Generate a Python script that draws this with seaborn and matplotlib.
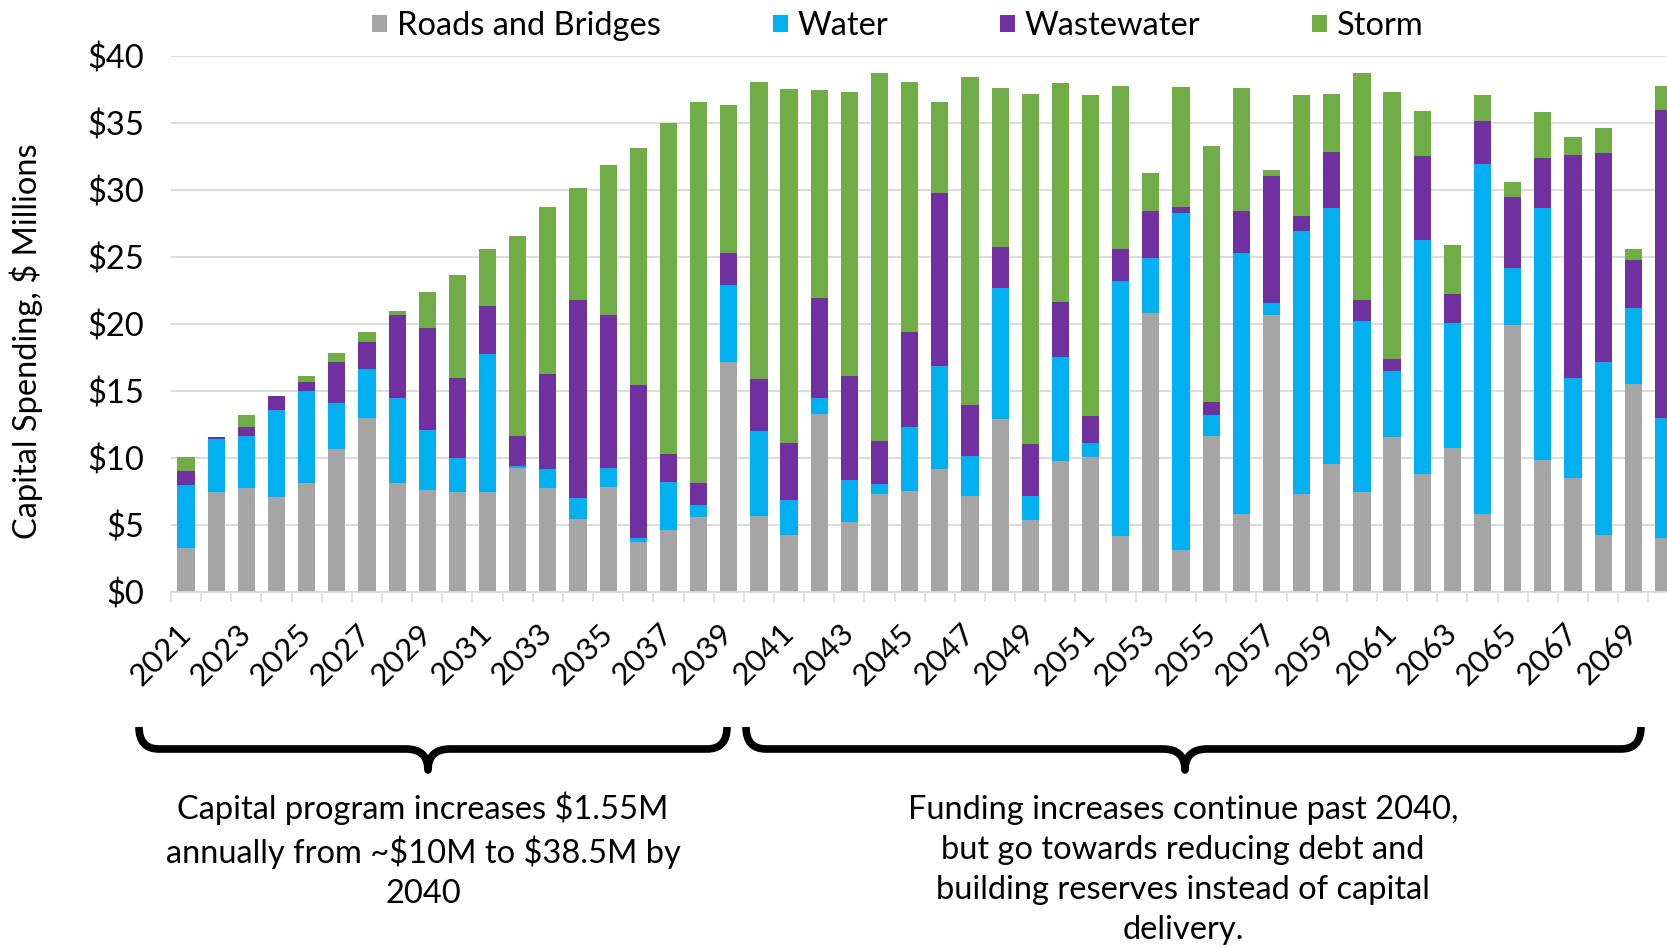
import numpy as np
import pandas as pd
import matplotlib
matplotlib.use("Agg")
import matplotlib.pyplot as plt
from matplotlib.path import Path
from matplotlib.patches import PathPatch, Patch
import seaborn as sns

# ---------------- data ----------------
years = list(range(2021, 2071))
roads = [3.28, 7.47, 7.77, 7.09, 8.09, 10.64, 12.94, 8.15, 7.62, 7.47,
         7.47, 9.28, 7.77, 5.44, 7.83, 3.72, 4.64, 5.58, 17.16, 5.67,
         4.25, 13.29, 5.23, 7.33, 7.53, 9.19, 7.18, 12.91, 5.38, 9.75,
         10.07, 4.14, 20.77, 3.16, 11.64, 5.79, 20.62, 7.27, 9.51, 7.47,
         11.52, 8.77, 10.75, 5.79, 19.88, 9.81, 8.51, 4.25, 15.48, 4.02]
water = [4.70, 3.96, 3.87, 6.50, 6.86, 3.48, 3.72, 6.33, 4.49, 2.54,
         10.31, 0.11, 1.42, 1.59, 1.42, 0.30, 3.57, 0.92, 5.76, 6.35,
         2.60, 1.19, 3.13, 0.74, 4.79, 7.68, 2.98, 9.72, 1.80, 7.74,
         1.07, 19.08, 4.10, 25.08, 1.57, 19.47, 0.89, 19.61, 19.09, 12.71,
         4.99, 17.46, 9.34, 26.12, 4.26, 18.79, 7.47, 12.91, 5.73, 8.98]
wastewater = [1.06, 0.09, 0.68, 1.06, 0.74, 3.04, 1.95, 6.20, 7.54, 5.97,
              3.58, 2.25, 7.09, 14.77, 11.43, 11.40, 2.10, 1.59, 2.34, 3.87,
              4.29, 7.47, 7.71, 3.22, 7.09, 12.85, 3.81, 3.07, 3.87, 4.16,
              2.01, 2.33, 3.52, 0.45, 0.97, 3.13, 9.48, 1.13, 4.19, 1.62,
              0.89, 6.27, 2.10, 3.19, 5.28, 3.75, 16.58, 15.57, 3.52, 22.92]
storm = [1.03, 0.00, 0.88, 0.00, 0.44, 0.68, 0.74, 0.24, 2.68, 7.62,
         4.25, 14.89, 12.41, 8.30, 11.14, 17.67, 24.64, 28.45, 11.05, 22.13,
         26.35, 15.48, 21.21, 27.41, 18.61, 6.82, 24.43, 11.88, 26.08, 16.31,
         23.90, 12.18, 2.84, 8.95, 19.05, 9.19, 0.47, 9.04, 4.34, 16.90,
         19.88, 3.36, 3.66, 1.95, 1.13, 3.43, 1.35, 1.83, 0.88, 1.81]

series_names = ["Roads and Bridges", "Water", "Wastewater", "Storm"]
series_colors = ["#A5A5A5", "#00B0F0", "#7030A0", "#70AD47"]
y_ticks = [0, 5, 10, 15, 20, 25, 30, 35, 40]
y_tick_labels = ["\\$0", "\\$5", "\\$10", "\\$15", "\\$20", "\\$25", "\\$30", "\\$35", "\\$40"]
x_tick_years = years[::2]
y_label = "Capital Spending, \\$ Millions"
note_left = "Capital program increases \\$1.55M\nannually from ~\\$10M to \\$38.5M by\n2040"
note_right = ("Funding increases continue past 2040,\nbut go towards reducing debt and\n"
              "building reserves instead of capital\ndelivery.")

# ---------------- style ----------------
sns.set_theme(style="white")
plt.rcParams["font.family"] = ["Lato", "DejaVu Sans"]
plt.rcParams["text.color"] = "#000000"
FS = 23.5
FS_X = 22.5

W, H = 1667, 948
fig = plt.figure(figsize=(W / 100, H / 100), dpi=100)
fig.patch.set_facecolor("white")

# axes extends slightly beyond right edge (as in the reference crop)
ax_left, ax_right, ax_top, ax_bottom = 171, 1678.5, 55.5, 592
ax = fig.add_axes([ax_left / W, 1 - ax_bottom / H,
                   (ax_right - ax_left) / W, (ax_bottom - ax_top) / H])

frames = []
for name, vals in zip(series_names, [roads, water, wastewater, storm]):
    frames.append(pd.DataFrame({"year": years, "value": vals, "series": name}))
df = pd.concat(frames, ignore_index=True)

sns.histplot(data=df, x="year", weights="value", hue="series",
             hue_order=series_names[::-1],
             palette=dict(zip(series_names, series_colors)),
             multiple="stack", discrete=True, shrink=0.57,
             linewidth=0, alpha=1, legend=False, ax=ax)

ax.set_xlim(2020.5, 2070.5)
ax.set_ylim(0, 40)
ax.set_axisbelow(True)
ax.yaxis.grid(True, color="#D9D9D9", linewidth=1.3)
ax.xaxis.grid(False)
for s in ["left", "top", "right"]:
    ax.spines[s].set_visible(False)
ax.spines["bottom"].set_color("#D9D9D9")
ax.spines["bottom"].set_linewidth(1.3)

ax.set_yticks(y_ticks)
ax.set_yticklabels(y_tick_labels)
ax.tick_params(axis="y", length=0, pad=19.5, labelsize=FS, labelcolor="#000000")

ax.set_xticks(x_tick_years)
ax.set_xticklabels([str(y) for y in x_tick_years], rotation=45,
                   ha="right", va="center", rotation_mode="anchor")
ax.set_xticks(np.arange(2020.5, 2071, 1), minor=True)
ax.tick_params(axis="x", which="major", length=0, pad=26.5, labelsize=FS_X,
               labelcolor="#000000", bottom=True)
ax.tick_params(axis="x", which="minor", length=7.2, width=1.1,
               color="#D9D9D9", direction="out", bottom=True)

ax.set_xlabel("")
ax.set_ylabel(y_label, fontsize=FS, va="center", color="#000000")
ax.yaxis.set_label_coords((26 - ax_left) / (ax_right - ax_left),
                          (ax_bottom - 341) / (ax_bottom - ax_top))

handles = [Patch(facecolor=c, edgecolor="none", label=n)
           for n, c in zip(series_names, series_colors)]
fig.legend(handles=handles, loc="center", bbox_to_anchor=(898 / W, 1 - 26 / H),
           ncol=4, frameon=False, fontsize=FS, handlelength=0.46,
           handleheight=0.46, handletextpad=0.31, columnspacing=3.41,
           borderaxespad=0, borderpad=0)

# ---------------- braces & notes (pixel overlay) ----------------
ov = fig.add_axes([0, 0, 1, 1])
ov.set_xlim(0, W)
ov.set_ylim(H, 0)
ov.axis("off")
ov.patch.set_alpha(0)


def brace(x0, x1, xc, yt=727, ym=749, yb=770, r=20, rc=22):
    verts = [(x0, yt), (x0, ym), (x0 + r, ym),
             (xc - rc, ym), (xc, ym), (xc, yb),
             (xc, ym), (xc + rc, ym),
             (x1 - r, ym), (x1, ym), (x1, yt)]
    codes = [Path.MOVETO, Path.CURVE3, Path.CURVE3,
             Path.LINETO, Path.CURVE3, Path.CURVE3,
             Path.CURVE3, Path.CURVE3,
             Path.LINETO, Path.CURVE3, Path.CURVE3]
    ov.add_patch(PathPatch(Path(verts, codes), facecolor="none",
                           edgecolor="black", linewidth=5.5,
                           capstyle="butt", joinstyle="round"))


brace(139, 727, 428)
brace(746, 1641, 1185)

ov.text(423, 850, note_left, ha="center", va="center", fontsize=FS,
        linespacing=1.4, multialignment="center")
ov.text(1183, 870, note_right, ha="center", va="center", fontsize=FS,
        linespacing=1.42, multialignment="center")

fig.savefig("out.png", dpi=100, facecolor="white")
